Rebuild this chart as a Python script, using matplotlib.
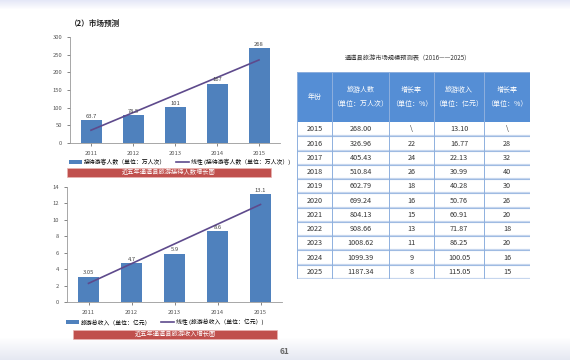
import numpy as np
import matplotlib.pyplot as plt
from matplotlib.patches import Rectangle

plt.rcParams['font.family'] = ['Noto Sans CJK SC', 'DejaVu Sans']

# chart data
years = ["2011", "2012", "2013", "2014", "2015"]
visitors = [63.7, 78.5, 101, 167, 268]
income = [3.05, 4.7, 5.9, 8.6, 13.1]

# forecast table
t_years = [2015, 2016, 2017, 2018, 2019, 2020, 2021, 2022, 2023, 2024, 2025]
t_visitors = [268.00, 326.96, 405.43, 510.84, 602.79, 699.24, 804.13, 908.66, 1008.62, 1099.39, 1187.34]
t_vis_growth = [None, 22, 24, 26, 18, 16, 15, 13, 11, 9, 8]
t_income = [13.10, 16.77, 22.13, 30.99, 40.28, 50.76, 60.91, 71.87, 86.25, 100.05, 115.05]
t_inc_growth = [None, 28, 32, 40, 30, 26, 20, 18, 20, 16, 15]
headers = ["年份", "旅游人数\n（单位：万人次）", "增长率\n（单位：%）",
           "旅游收入\n（单位：亿元）", "增长率\n（单位：%）"]

W, H = 570, 360
BLUE = "#4F81BD"
LINE = "#5E4A8C"
RED = "#C0504D"


def box(x0, y0, x1, y1):
    return [x0 / W, 1 - y1 / H, (x1 - x0) / W, (y1 - y0) / H]


fig = plt.figure(figsize=(W / 100, H / 100), dpi=100)

# faint page header / footer shading
bg = fig.add_axes([0, 0, 1, 1], zorder=-5)
yy = np.linspace(0, 1, 360)[:, None]
top = np.clip(1 - yy * 360 / 9, 0, 1)
bot = np.clip((yy * 360 - 338) / 22, 0, 1)
img = np.ones((360, 570, 3))
img[:, :, 0] -= 0.10 * top + 0.10 * bot
img[:, :, 1] -= 0.09 * top + 0.09 * bot
img[:, :, 2] -= 0.03 * top + 0.05 * bot
bg.imshow(img, aspect="auto", extent=[0, 1, 0, 1])
bg.axis("off")

fig.text(70 / W, 1 - 23 / H, "（2）市场预测", fontsize=5.5, fontweight="bold",
         va="center", ha="left", color="#222222")


def bar_chart(rect, vals, ylim, step, fmt_labels, legend_txt, caption, cap_box):
    ax = fig.add_axes(box(*rect))
    x = np.arange(len(years))
    bars = ax.bar(x, vals, width=0.5, color=BLUE, label=legend_txt, zorder=2)
    k, b = np.polyfit(x, vals, 1)
    line, = ax.plot(x, k * x + b, color=LINE, lw=1.2, label="线性 (" + legend_txt + ")", zorder=3)
    for xi, v, s in zip(x, vals, fmt_labels):
        ax.text(xi, v + ylim * 0.015, s, ha="center", va="bottom", fontsize=4.2, color="#444444")
    ax.set_xlim(-0.5, len(years) - 0.5)
    ax.set_ylim(0, ylim)
    ax.set_yticks(np.arange(0, ylim + step / 2, step))
    ax.set_xticks(x)
    ax.set_xticklabels(years)
    ax.tick_params(labelsize=4.2, colors="#555555", length=2, width=0.5)
    for s in ["top", "right"]:
        ax.spines[s].set_visible(False)
    for s in ["left", "bottom"]:
        ax.spines[s].set_color("#999999")
        ax.spines[s].set_linewidth(0.6)
    ax.legend([bars, line], [legend_txt, "线性 (" + legend_txt + ")"], ncol=2,
              loc="upper left", bbox_to_anchor=(-0.03, -0.1), frameon=False,
              fontsize=4.2, handlelength=2.2, columnspacing=1.6, handleheight=0.8,
              handletextpad=0.4)
    x0, y0, x1, y1 = cap_box
    fig.patches.append(Rectangle((x0 / W, 1 - y1 / H), (x1 - x0) / W, (y1 - y0) / H,
                                 transform=fig.transFigure, facecolor=RED, edgecolor="#E8B4B3", lw=0.5))
    fig.text((x0 + x1) / 2 / W, 1 - (y0 + y1) / 2 / H, caption, fontsize=4.5, color="white",
             ha="center", va="center")


bar_chart((70, 37, 280, 143), visitors, 300, 50, ["63.7", "78.5", "101", "167", "268"],
          "接待游客人数（单位：万人次）", "近五年通道县旅游接待人数增长图", (67, 168, 271, 177))
bar_chart((67, 187, 282, 302), income, 14, 2, ["3.05", "4.7", "5.9", "8.6", "13.1"],
          "旅游总收入（单位：亿元）", "近五年通道县旅游收入增长图", (73, 330, 277, 339))

# table
fig.text(408 / W, 1 - 58 / H, "通道县旅游市场规模预测表（2016——2025）", fontsize=4.5,
         ha="center", va="center", color="#333333")
tx = fig.add_axes(box(297, 72, 530, 279))
cols = [0, 35, 92, 137, 187, 233]
hh, rh = 50, 14.2
total = hh + rh * len(t_years)
tx.set_xlim(0, 233)
tx.set_ylim(total, 0)
tx.axis("off")
tx.add_patch(Rectangle((0, 0), 233, hh, facecolor="#558ED5", edgecolor="none"))
for i, h in enumerate(headers):
    tx.text((cols[i] + cols[i + 1]) / 2, hh / 2, h, ha="center", va="center", fontsize=5,
            color="white", linespacing=1.9)


def fmt_g(v):
    return "\\" if v is None else str(v)


for r in range(len(t_years)):
    cells = [str(t_years[r]), "%.2f" % t_visitors[r], fmt_g(t_vis_growth[r]),
             "%.2f" % t_income[r], fmt_g(t_inc_growth[r])]
    yc = hh + rh * (r + 0.5)
    for i, c in enumerate(cells):
        tx.text((cols[i] + cols[i + 1]) / 2, yc, c, ha="center", va="center", fontsize=5.2,
                color="#333333")
    tx.axhline(hh + rh * (r + 1), color="#C6D6EE", lw=1.6, zorder=1)
    tx.axhline(hh + rh * (r + 1), color="#8EB0DE", lw=0.5, zorder=2)
for c in cols:
    tx.plot([c, c], [0, total], color="#8EB0DE", lw=0.7)
tx.plot([0, 233], [0, 0], color="#8EB0DE", lw=0.7)

fig.text(285 / W, 1 - 352 / H, "61", fontsize=6, fontweight="bold", color="#666666",
         ha="center", va="center")

fig.savefig("out.png", dpi=100)
